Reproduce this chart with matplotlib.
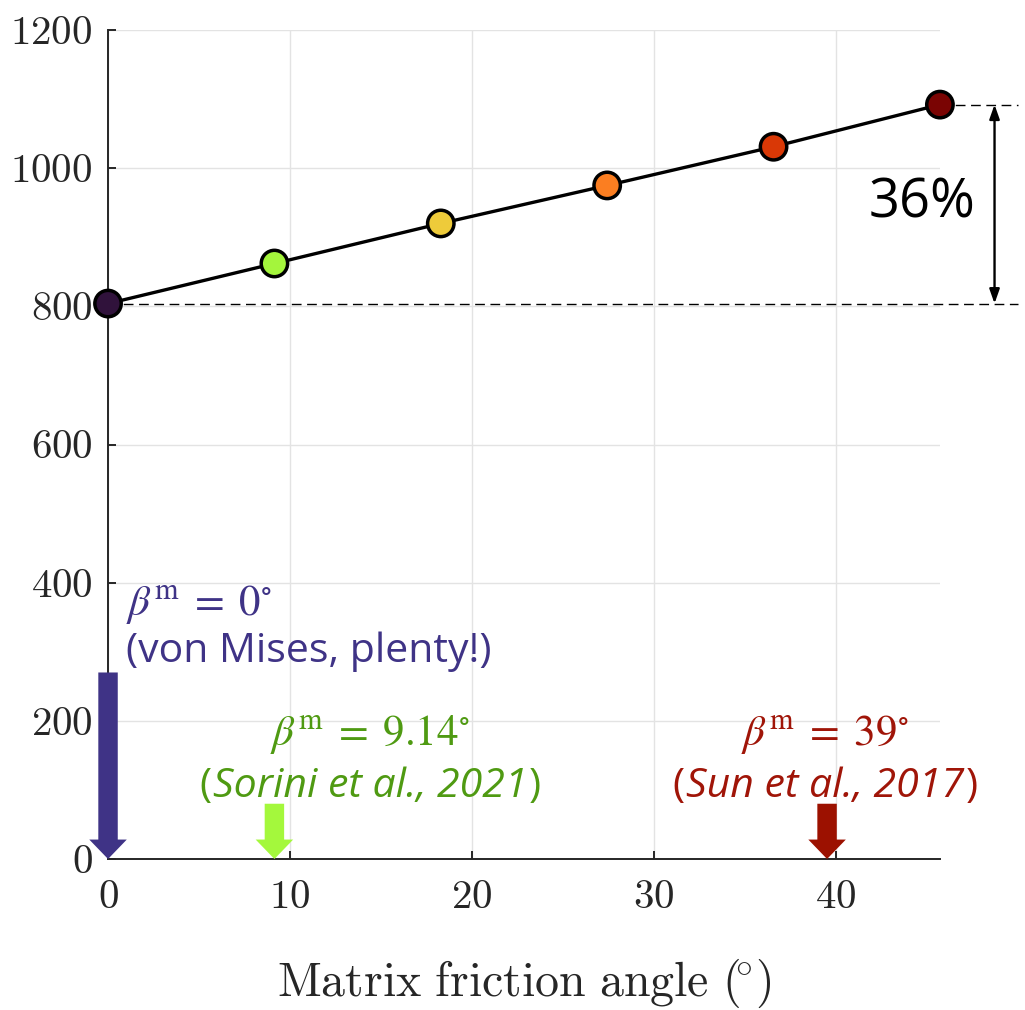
import matplotlib
matplotlib.use("Agg")
import matplotlib.pyplot as plt
from matplotlib.patches import FancyArrowPatch
from matplotlib.offsetbox import TextArea, HPacker, AnnotationBbox

plt.rcParams['axes.formatter.use_mathtext'] = True

# ---- data ----
angles = [0, 9.14, 18.28, 27.42, 36.56, 45.7]
strength = [804, 862, 920, 975, 1031, 1092]
point_colors = ['#30123b', '#a4f53c', '#eecb3a', '#fb7e21', '#d93806', '#7a0403']

xticks = [0, 10, 20, 30, 40]
yticks = [0, 200, 400, 600, 800, 1000, 1200]

ref_angles = [0, 9.14, 39.5]
ref_arrow_top = [270, 80, 80]
ref_arrow_colors = ['#3f3386', '#a4f83c', '#9c1100']
ref_text_colors = ['#3f3386', '#4f9a12', '#a01508']
ref_line1 = [r'$\beta^{\mathrm{m}}\;=\;0^{\circ}$',
             r'$\beta^{\mathrm{m}}\;=\;9.14^{\circ}$',
             r'$\beta^{\mathrm{m}}\;=\;39^{\circ}$']
ref_cites = ['Sorini et al., 2021', 'Sun et al., 2017']
blue_line2 = '(von Mises, plenty!)'
increase_label = '36%'

fig = plt.figure(figsize=(10.25, 10.10), dpi=100)
ax = fig.add_axes([0.1054, 0.1495, 0.917 - 0.1054, 0.9703 - 0.1495])

ax.set_xlim(0, 45.7)
ax.set_ylim(0, 1200)
ax.set_xticks(xticks)
ax.set_yticks(yticks)
ax.grid(True, color='#e3e3e3', linewidth=1.0)
ax.set_axisbelow(True)
for s in ['top', 'right']:
    ax.spines[s].set_visible(False)
for s in ['left', 'bottom']:
    ax.spines[s].set_color('#262626')
    ax.spines[s].set_linewidth(1.4)
ax.tick_params(direction='in', length=6, width=1.4, color='#262626',
               labelcolor='#262626')
for lab in ax.get_xticklabels() + ax.get_yticklabels():
    lab.set_fontfamily('cmr10')
    lab.set_fontsize(29.5)
ax.tick_params(axis='x', pad=15)
ax.tick_params(axis='y', pad=11)

ax.set_xlabel(r'$\mathrm{Matrix\ friction\ angle\ (\!^{\circ})}$',
              fontsize=34.5, color='#262626', labelpad=30, math_fontfamily='cm')

# main line
ax.plot(angles, strength, color='black', linewidth=2.4, zorder=3)
ax.scatter(angles, strength, s=19**2, c=point_colors, edgecolors='black',
           linewidths=2.5, zorder=4, clip_on=False)

# dashed references
ax.plot([angles[0], 50.0], [strength[0], strength[0]], color='black',
        linestyle=(0, (7, 4)), linewidth=1.0, clip_on=False, zorder=2)
ax.plot([angles[-1], 50.0], [strength[-1], strength[-1]], color='black',
        linestyle=(0, (7, 4)), linewidth=1.0, clip_on=False, zorder=2)
ax.annotate('', xy=(48.7, strength[-1]), xytext=(48.7, strength[0]),
            arrowprops=dict(arrowstyle='<|-|>,head_length=0.85,head_width=0.3',
                            color='black', lw=1.7, shrinkA=0, shrinkB=0),
            annotation_clip=False)
ax.text(44.7, 950, increase_label, fontfamily='Open Sans', fontsize=39,
        ha='center', va='center', color='black')

# reference arrows
for xa, yt, c in zip(ref_angles, ref_arrow_top, ref_arrow_colors):
    arr = FancyArrowPatch((xa, yt), (xa, 0),
                          arrowstyle='simple,head_length=14,head_width=27,tail_width=14',
                          mutation_scale=1, color=c, linewidth=0,
                          shrinkA=0, shrinkB=0, clip_on=False, zorder=5)
    ax.add_patch(arr)

# reference texts
L1 = 31
L2 = 29.5
# blue (left aligned)
ax.text(1.0, 353, ref_line1[0], math_fontfamily='stix', fontsize=L1,
        color=ref_text_colors[0], ha='left', va='baseline')
ax.text(1.0, 285, blue_line2, fontfamily='Open Sans', fontsize=L2,
        color=ref_text_colors[0], ha='left', va='baseline')

for xc, line1, cite, col in zip([14.4, 39.4], ref_line1[1:], ref_cites,
                                ref_text_colors[1:]):
    ax.text(xc, 165, line1, math_fontfamily='stix', fontsize=L1,
            color=col, ha='center', va='baseline')
    up = dict(fontfamily='Open Sans', fontsize=L2, color=col)
    it = dict(fontfamily='Open Sans', fontsize=L2, color=col, fontstyle='italic')
    box = HPacker(children=[TextArea('(', textprops=up),
                            TextArea(cite, textprops=it),
                            TextArea(')', textprops=up)],
                  align='baseline', pad=0, sep=1)
    ab = AnnotationBbox(box, (xc, 88), xycoords='data', box_alignment=(0.5, 0.22),
                        frameon=False, pad=0, annotation_clip=False)
    ax.add_artist(ab)

fig.savefig('out.png', dpi=100)
